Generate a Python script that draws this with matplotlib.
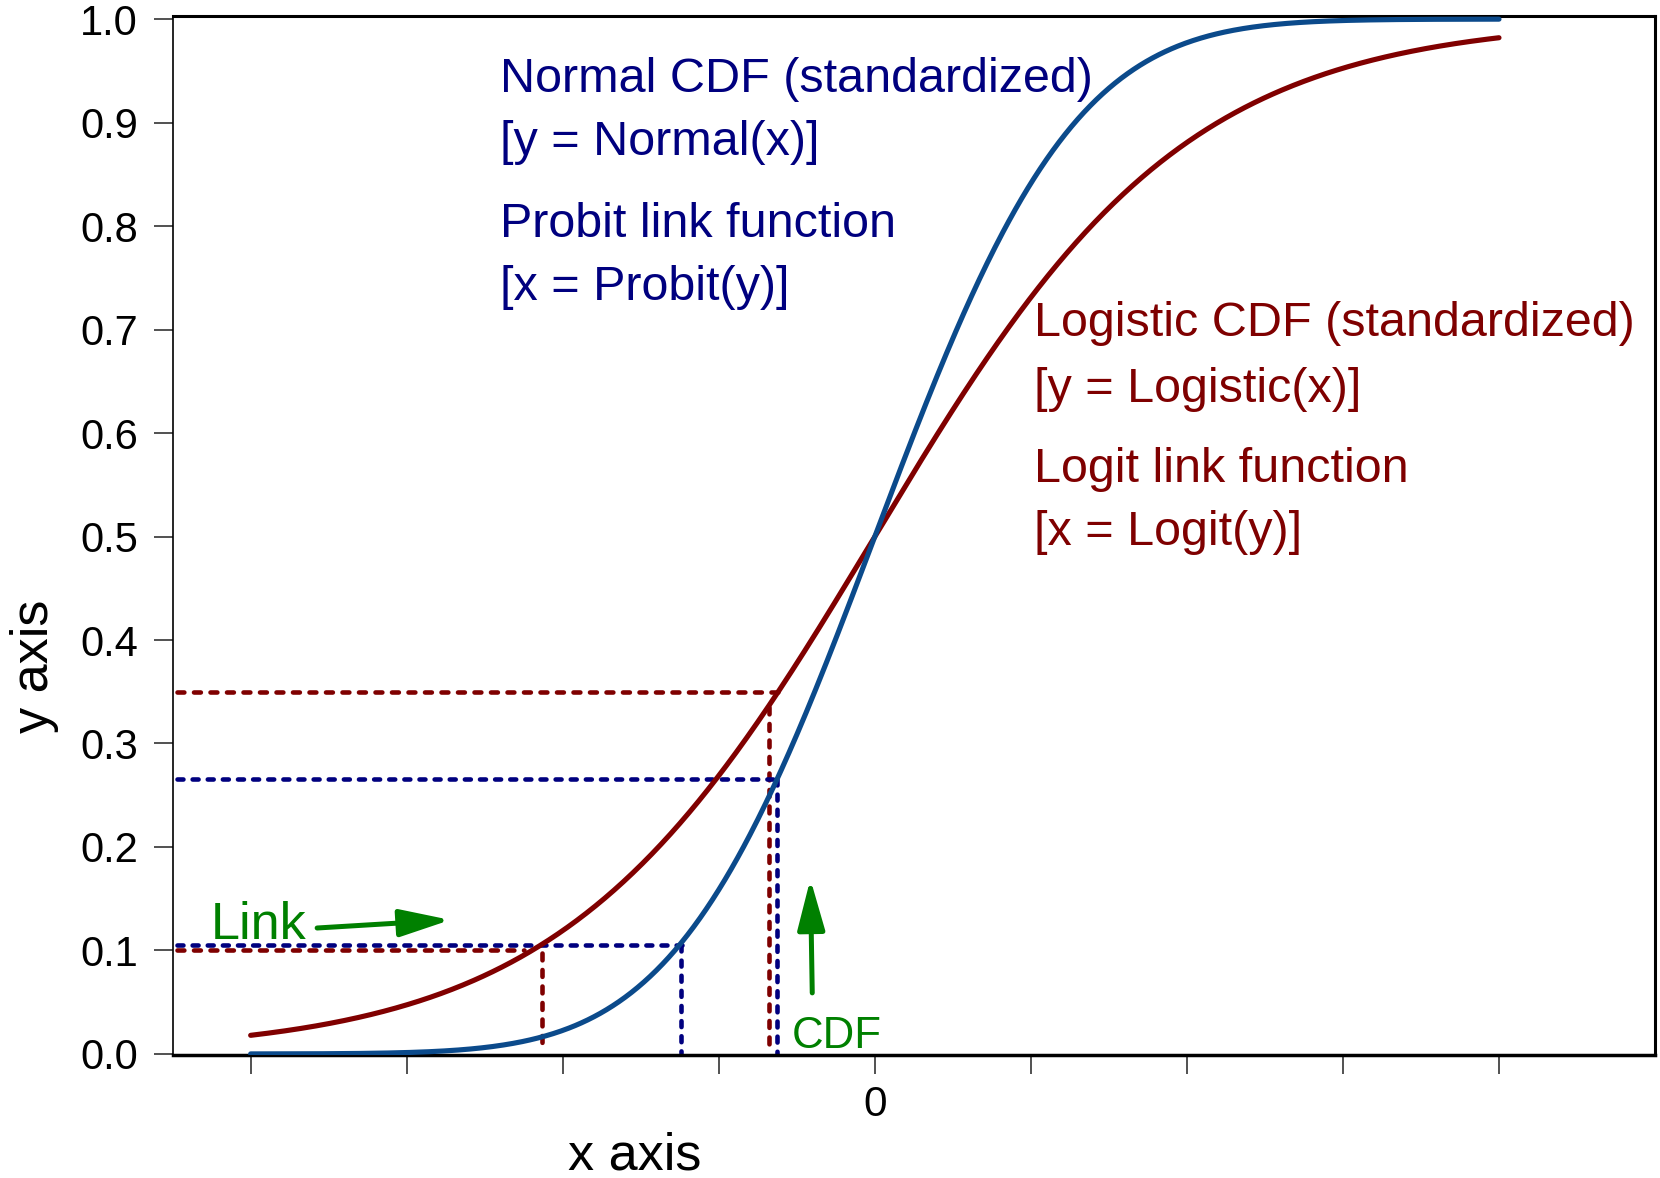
import math
import numpy as np
import matplotlib
matplotlib.use("Agg")
import matplotlib.pyplot as plt

plt.rcParams['font.family'] = ['Liberation Sans', 'DejaVu Sans']

# ---- data ----
x_ticks = [-4, -3, -2, -1, 0, 1, 2, 3, 4]
x_tick_labels = ["", "", "", "", "0", "", "", "", ""]
y_ticks = [0.0, 0.1, 0.2, 0.3, 0.4, 0.5, 0.6, 0.7, 0.8, 0.9, 1.0]
y_tick_labels = ["0.0", "0.1", "0.2", "0.3", "0.4", "0.5", "0.6", "0.7", "0.8", "0.9", "1.0"]
x_range = (-4.0, 4.0)

# dashed guide lines: (level y, x where horizontal ends, x of vertical, vertical top, vertical bottom)
red_guides_y = [0.1005, 0.350]
red_guides_xh = [-2.25, -0.60]
red_guides_xv = [-2.13, -0.678]
red_guides_vtop = [0.098, 0.335]
red_guides_vbot = [0.006, 0.007]

blue_guides_y = [0.1048, 0.2657]
blue_guides_xh = [-1.235, -0.625]
blue_guides_xv = [-1.24, -0.625]
blue_guides_vtop = [0.1048, 0.2657]
blue_guides_vbot = [0.001, -0.003]

blue_text = ["Normal CDF (standardized)", "[y = Normal(x)]",
             "Probit link function", "[x = Probit(y)]"]
blue_text_y = [0.9295, 0.8686, 0.789, 0.7285]
red_text = ["Logistic CDF (standardized)", "[y = Logistic(x)]",
            "Logit link function", "[x = Logit(y)]"]
red_text_y = [0.6935, 0.630, 0.553, 0.4918]

# ---- curves (theoretical CDFs) ----
xs = np.linspace(x_range[0], x_range[1], 801)
normal_cdf = np.array([0.5 * (1 + math.erf(v / math.sqrt(2))) for v in xs])
logistic_cdf = 1.0 / (1.0 + np.exp(-xs))

BLUE_CURVE = "#0b4a8b"
RED_CURVE = "#800000"
BLUE_DASH = "#00007f"
RED_DASH = "#7f0000"
BLUE_TEXT = "#00007f"
RED_TEXT = "#7f0000"
GREEN = "#008000"

fig = plt.figure(figsize=(16.6, 11.78), dpi=100)
ax = fig.add_axes([0.104, 0.104, 0.893, 0.8824])

ax.set_xlim(-4.5, 5.0)
ax.set_ylim(-0.0015, 1.003)

red_dash_kw = dict(lw=3.3, dashes=(1.5, 2.1), dash_capstyle='round', solid_capstyle='round')
blue_dash_kw = dict(lw=3.3, dashes=(1.3, 2.0), dash_capstyle='round', solid_capstyle='round')
for yv, xh, xv, vt, vb in zip(red_guides_y, red_guides_xh, red_guides_xv, red_guides_vtop, red_guides_vbot):
    ax.plot([-4.47, xh], [yv, yv], color=RED_DASH, **red_dash_kw, zorder=2)
    ax.plot([xv, xv], [vt, vb], color=RED_DASH, **red_dash_kw, zorder=2)
for yv, xh, xv, vt, vb in zip(blue_guides_y, blue_guides_xh, blue_guides_xv, blue_guides_vtop, blue_guides_vbot):
    ax.plot([-4.47, xh], [yv, yv], color=BLUE_DASH, **blue_dash_kw, zorder=2)
    ax.plot([xv, xv], [vt, vb], color=BLUE_DASH, **blue_dash_kw, zorder=2)

ax.plot(xs, logistic_cdf, color=RED_CURVE, lw=3.7, solid_capstyle='round', zorder=3)
ax.plot(xs, normal_cdf, color=BLUE_CURVE, lw=3.7, solid_capstyle='round', zorder=4)

for t, yv in zip(blue_text, blue_text_y):
    ax.text(-2.40, yv, t, color=BLUE_TEXT, fontsize=34.9, va='baseline', ha='left')
for t, yv in zip(red_text, red_text_y):
    ax.text(1.02, yv, t, color=RED_TEXT, fontsize=34.9, va='baseline', ha='left')

# green annotations
arrow_kw = dict(arrowstyle="-|>,head_length=1.55,head_width=0.42",
                color=GREEN, lw=3.6, shrinkA=0, shrinkB=0, mutation_scale=20)
ax.text(-4.253, 0.111, "Link", color=GREEN, fontsize=37.5, va='baseline', ha='left')
ax.annotate("", xy=(-2.72, 0.1295), xytext=(-3.574, 0.1217), arrowprops=arrow_kw)
ax.text(-0.535, 0.0058, "CDF", color=GREEN, fontsize=31.5, va='baseline', ha='left')
ax.annotate("", xy=(-0.413, 0.169), xytext=(-0.401, 0.059), arrowprops=arrow_kw)

ax.set_xticks(x_ticks)
ax.set_xticklabels(x_tick_labels)
ax.set_yticks(y_ticks)
ax.set_yticklabels(y_tick_labels)
ax.tick_params(axis='x', direction='out', length=14, width=1.1, color='#222222',
               labelsize=30.5, pad=7)
ax.tick_params(axis='y', direction='out', length=14, width=1.1, color='#222222',
               labelsize=30, pad=11)

ax.spines['left'].set_linewidth(1.2)
ax.spines['bottom'].set_linewidth(2.5)
ax.spines['top'].set_linewidth(2.2)
ax.spines['right'].set_linewidth(2.2)
for s in ax.spines.values():
    s.set_color('black')

fig.text(0.3825, 0.0068, "x axis", fontsize=37.5, ha='center', va='baseline')
fig.text(0.0205, 0.434, "y axis", fontsize=37.5, ha='center', va='center', rotation=90)

fig.savefig("out.png", dpi=100)
